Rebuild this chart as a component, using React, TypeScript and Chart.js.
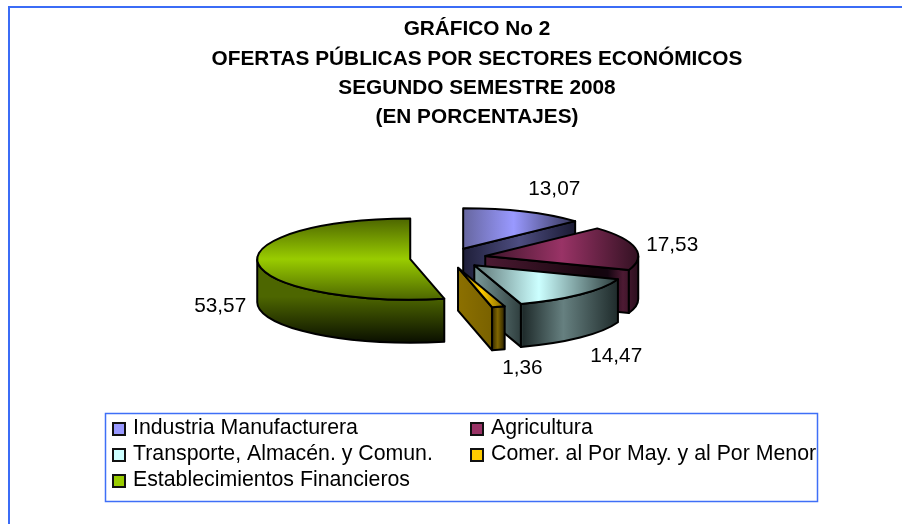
import React, { useEffect, useRef } from "react";
import { Chart, registerables } from "chart.js";

Chart.register(...registerables);

const TITLE_LINES = [
  "GRÁFICO No 2",
  "OFERTAS PÚBLICAS POR SECTORES ECONÓMICOS",
  "SEGUNDO SEMESTRE 2008",
  "(EN PORCENTAJES)",
];
const CATEGORIES = [
  "Industria Manufacturera",
  "Agricultura",
  "Transporte, Almacén. y Comun.",
  "Comer. al Por May. y al Por Menor",
  "Establecimientos Financieros",
];
const VALUES = [13.07, 17.53, 14.47, 1.36, 53.57];
const BASE_COLORS = ["#9999ff", "#993366", "#ccffff", "#ffcc00", "#99cc00"];

type Stops = [number, string][];
type Paint = { axis: "x" | "y"; stops: Stops };

const TOP_PAINT: Paint[] = [
  { axis: "x", stops: [[0, "#66669f"], [0.45, "#9999ff"], [1, "#333355"]] },
  { axis: "x", stops: [[0, "#3d1429"], [0.5, "#993366"], [1, "#331122"]] },
  { axis: "x", stops: [[0, "#5c7373"], [0.45, "#ccffff"], [1, "#2a3a3a"]] },
  { axis: "x", stops: [[0, "#806600"], [0.5, "#ffcc00"], [1, "#806600"]] },
  { axis: "y", stops: [[0, "#4d6600"], [0.5, "#99cc00"], [1, "#4d6600"]] },
];
const SIDE_PAINT: Paint[] = [
  { axis: "x", stops: [[0, "#1f1f3a"], [0.5, "#4d4d80"], [1, "#1a1a33"]] },
  { axis: "x", stops: [[0, "#4d1a33"], [0.7, "#14050c"], [0.8, "#140510"], [0.9, "#4d1a33"], [1, "#2b0f1d"]] },
  { axis: "x", stops: [[0, "#7a9999"], [0.33, "#2e3d3d"], [0.34, "#1f2b2b"], [0.62, "#668080"], [1, "#1f2b2b"]] },
  { axis: "x", stops: [[0, "#8c7000"], [0.7, "#7a6200"], [0.75, "#403300"], [0.85, "#806600"], [1, "#2b2200"]] },
  { axis: "y", stops: [[0, "#4d6600"], [0.45, "#4d6600"], [1, "#0a0f00"]] },
];
const LABEL_NUDGE = [[30, -22], [37, -3], [36, 62], [24, 61], [-38, 43]];

const PIE = { cx: 448, cy: 258, radius: 153, squash: 0.265, depth: 43, explode: 38 };
const FRAME = "#3b6cf6";
const FONT = '"Liberation Sans", Arial, sans-serif';

function fmt(v: number) {
  return v.toFixed(2).replace(".", ",");
}

function paintGradient(ctx: CanvasRenderingContext2D, p: Paint, b: number[]) {
  const g =
    p.axis === "x"
      ? ctx.createLinearGradient(b[0], 0, b[1], 0)
      : ctx.createLinearGradient(0, b[2], 0, b[3]);
  p.stops.forEach(([t, c]) => g.addColorStop(t, c));
  return g;
}

const pie3d = {
  id: "pie3d",
  beforeDraw(chart: any) {
    const { ctx, width, height } = chart;
    ctx.save();
    ctx.fillStyle = "#ffffff";
    ctx.fillRect(0, 0, width, height);
    ctx.fillStyle = FRAME;
    ctx.fillRect(8, 6, width - 8, 2);
    ctx.fillRect(8, 6, 2, height - 6);
    ctx.restore();
  },
  beforeDatasetDraw(chart: any, args: any) {
    const { ctx } = chart;
    const arcs = args.meta.data;
    const { cx, cy, squash: k, depth, explode } = PIE;
    arcs.forEach((arc: any, i: number) => {
      const { startAngle: a0, endAngle: a1, outerRadius: R } = arc;
      const mid = (a0 + a1) / 2;
      const ox = cx + Math.cos(mid) * explode;
      const oy = cy + Math.sin(mid) * explode * k;
      const pt = (a: number, z = 0) => [ox + R * Math.cos(a), oy + k * R * Math.sin(a) + z];

      const xs = [ox];
      const ys = [oy];
      for (let s = 0; s <= 48; s++) {
        const [x, y] = pt(a0 + ((a1 - a0) * s) / 48);
        xs.push(x);
        ys.push(y);
      }
      const bx0 = Math.min(...xs);
      const bx1 = Math.max(...xs);
      const by0 = Math.min(...ys);
      const by1 = Math.max(...ys);

      ctx.save();
      ctx.lineWidth = 2;
      ctx.strokeStyle = "#000000";
      ctx.lineJoin = "round";
      ctx.fillStyle = paintGradient(ctx, SIDE_PAINT[i], [bx0, bx1, oy, by1 + depth]);

      const wall = (a: number) => {
        const [px, py] = pt(a);
        ctx.beginPath();
        ctx.moveTo(ox, oy);
        ctx.lineTo(px, py);
        ctx.lineTo(px, py + depth);
        ctx.lineTo(ox, oy + depth);
        ctx.closePath();
        ctx.fill();
        ctx.stroke();
      };
      if (Math.cos(a0) < -1e-6) wall(a0);
      if (Math.cos(a1) > 1e-6) wall(a1);

      const f0 = Math.max(a0, 0);
      const f1 = Math.min(a1, Math.PI);
      if (f1 > f0) {
        ctx.beginPath();
        ctx.ellipse(ox, oy, R, k * R, 0, f0, f1, false);
        ctx.ellipse(ox, oy + depth, R, k * R, 0, f1, f0, true);
        ctx.closePath();
        ctx.fill();
        ctx.stroke();
      }
      ctx.restore();

      ctx.save();
      ctx.translate(ox, oy);
      ctx.scale(1, k);
      ctx.translate(-arc.x, -arc.y);
      const toLocalX = (x: number) => x - ox + arc.x;
      const toLocalY = (y: number) => (y - oy) / k + arc.y;
      arc.options = Object.assign({}, arc.options, {
        borderWidth: 0,
        backgroundColor: paintGradient(ctx, TOP_PAINT[i], [
          toLocalX(bx0),
          toLocalX(bx1),
          toLocalY(by0),
          toLocalY(by1),
        ]),
      });
      arc.draw(ctx);
      ctx.restore();

      ctx.save();
      ctx.lineWidth = 2;
      ctx.strokeStyle = "#000000";
      ctx.lineJoin = "round";
      ctx.beginPath();
      ctx.moveTo(ox, oy);
      ctx.ellipse(ox, oy, R, k * R, 0, a0, a1, false);
      ctx.closePath();
      ctx.stroke();
      ctx.restore();
    });
    return false;
  },
  afterDatasetsDraw(chart: any) {
    const { ctx } = chart;
    const arcs = chart.getDatasetMeta(0).data;
    const { cx, cy, squash: k, explode } = PIE;
    ctx.save();
    ctx.fillStyle = "#000000";
    ctx.font = `20.8px ${FONT}`;
    ctx.textAlign = "center";
    ctx.textBaseline = "middle";
    arcs.forEach((arc: any, i: number) => {
      const mid = (arc.startAngle + arc.endAngle) / 2;
      const R = arc.outerRadius;
      const x = cx + Math.cos(mid) * (explode + R) + LABEL_NUDGE[i][0];
      const y = cy + Math.sin(mid) * (explode + R) * k + LABEL_NUDGE[i][1];
      ctx.fillText(fmt(VALUES[i]), x, y);
    });

    ctx.lineWidth = 1.5;
    ctx.strokeStyle = "#3f6ff7";
    ctx.strokeRect(105.5, 413.5, 712, 88);
    ctx.font = `21.3px ${FONT}`;
    ctx.textAlign = "left";
    const colX = [113, 471];
    const rowY = [428, 454, 480];
    CATEGORIES.forEach((name, i) => {
      const x = colX[i % 2];
      const y = rowY[Math.floor(i / 2)];
      ctx.fillStyle = BASE_COLORS[i];
      ctx.fillRect(x, y - 5, 12, 12);
      ctx.lineWidth = 2;
      ctx.strokeStyle = "#111111";
      ctx.strokeRect(x, y - 5, 12, 12);
      ctx.fillStyle = "#000000";
      ctx.fillText(name, x + 20, y);
    });
    ctx.restore();
  },
};

export default function App() {
  const ref = useRef<HTMLCanvasElement>(null);
  useEffect(() => {
    const chart = new Chart(ref.current!, {
      type: "pie",
      data: {
        labels: CATEGORIES,
        datasets: [{ data: VALUES, backgroundColor: BASE_COLORS, borderWidth: 0, clip: false } as any],
      },
      plugins: [pie3d],
      options: {
        animation: false,
        responsive: false,
        events: [],
        radius: PIE.radius,
        layout: { padding: { left: 52, right: 0, top: 0, bottom: 0 } },
        plugins: {
          legend: { display: false },
          tooltip: { enabled: false },
          title: {
            display: true,
            text: TITLE_LINES,
            align: "center",
            color: "#000000",
            padding: { top: 15, bottom: 0 },
            font: { family: FONT, size: 20.8, weight: "bold", lineHeight: 1.41 },
          },
        },
      } as any,
    });
    return () => chart.destroy();
  }, []);
  return (
    <canvas
      ref={ref}
      width={902}
      height={524}
      style={{ position: "absolute", left: 0, top: 0, display: "block", width: 902, height: 524 }}
    />
  );
}
